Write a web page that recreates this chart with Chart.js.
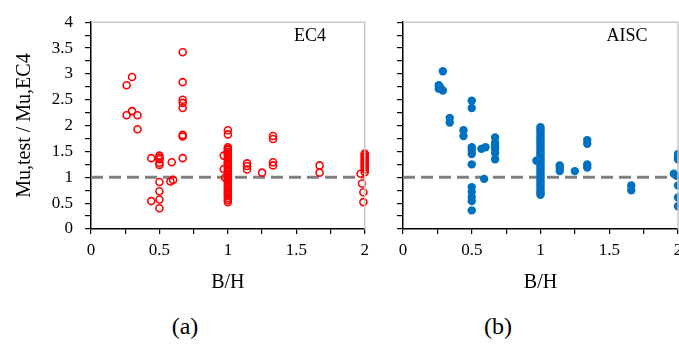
<!DOCTYPE html>
<html>
<head>
<meta charset="UTF-8">
<script src="https://cdn.jsdelivr.net/npm/chart.js"></script>
<style>
  html, body { margin: 0; padding: 0; background: #fff; overflow: hidden; }
  body { width: 679px; height: 347px; position: relative; font-family: "Liberation Serif", serif; }
  .box { position: absolute; top: 0; height: 300px; }
  #boxA { left: 0; width: 375px; }
  #boxB { left: 375px; width: 320px; }
  .tag { position: absolute; font-size: 18px; color: #000; transform: translate(-50%, -50%); white-space: nowrap; }
  .cap { position: absolute; font-size: 24px; color: #000; transform: translate(-50%, -50%); }
</style>
</head>
<body>
<div class="box" id="boxA"><canvas id="chartA"></canvas></div>
<div class="box" id="boxB"><canvas id="chartB"></canvas></div>
<div class="tag" style="left:310px; top:35px;">EC4</div>
<div class="tag" style="left:627px; top:35px;">AISC</div>
<div class="cap" style="left:185px; top:326px;">(a)</div>
<div class="cap" style="left:498px; top:326px;">(b)</div>

<script>
// B/H ratio and Mu,test / Mu,code values
const ec4X = [0.26, 0.26, 0.30, 0.30, 0.34, 0.34,
  0.44, 0.44, 0.5, 0.5, 0.5, 0.5, 0.5, 0.5, 0.5, 0.5, 0.5,
  0.58, 0.60, 0.59,
  0.67, 0.67, 0.67, 0.67, 0.67, 0.67, 0.67, 0.67,
  1, 1, 1, 1, 1, 1, 1, 1, 1, 1, 1, 1, 1, 1, 1, 1, 1, 1, 1, 1, 1, 1, 1, 1, 1, 1, 1, 1, 1, 1, 1, 1, 1, 1,
  0.97, 0.97, 0.98,
  1.14, 1.14, 1.14, 1.25, 1.33, 1.33, 1.33, 1.33, 1.67, 1.67,
  2, 2, 2, 2, 2, 2, 2, 2, 2, 2, 2,
  1.97, 2, 1.98, 1.99, 1.99];
const ec4Y = [2.78, 2.20, 2.94, 2.28, 2.20, 1.93,
  1.37, 0.54, 1.42, 1.38, 1.35, 1.28, 1.24, 0.91, 0.73, 0.57, 0.40,
  0.92, 0.95, 1.29,
  3.42, 2.84, 2.50, 2.44, 2.34, 1.82, 1.79, 1.37,
  1.91, 1.83, 1.58, 1.55, 1.53, 1.49, 1.46, 1.43, 1.39, 1.36, 1.33, 1.29, 1.27, 1.24, 1.20, 1.17, 1.13, 1.11, 1.07, 1.04, 1.01, 0.97, 0.94, 0.90, 0.86, 0.83, 0.79, 0.75, 0.71, 0.68, 0.65, 0.60, 0.56, 0.52,
  1.42, 1.16, 0.99,
  1.27, 1.22, 1.15, 1.09, 1.80, 1.74, 1.29, 1.23, 1.23, 1.09,
  1.46, 1.43, 1.40, 1.37, 1.34, 1.31, 1.28, 1.25, 1.22, 1.19, 1.15,
  1.07, 1.10, 0.88, 0.71, 0.52];

const aiscX = [0.29, 0.26, 0.26, 0.29, 0.27,
  0.34, 0.34, 0.44, 0.44,
  0.5, 0.5, 0.5, 0.5, 0.5, 0.5, 0.5, 0.5, 0.5, 0.5, 0.5,
  0.57, 0.60, 0.59,
  0.67, 0.67, 0.67, 0.67, 0.67, 0.67,
  1, 1, 1, 1, 1, 1, 1, 1, 1, 1, 1, 1, 1, 1, 1, 1, 1, 1, 1, 1, 1, 1, 1, 1, 1, 1, 1, 1, 1, 1, 1,
  0.97,
  1.14, 1.14, 1.14, 1.25, 1.34, 1.34, 1.34, 1.34, 1.66, 1.66,
  2, 2, 2, 1.97, 1.99, 2, 2, 2];
const aiscY = [3.05, 2.78, 2.71, 2.68, 2.74,
  2.15, 2.06, 1.91, 1.80,
  2.48, 2.34, 1.58, 1.52, 1.45, 1.25, 0.81, 0.72, 0.62, 0.54, 0.36,
  1.55, 1.58, 0.97,
  1.77, 1.67, 1.60, 1.55, 1.47, 1.35,
  1.97, 1.93, 1.88, 1.84, 1.79, 1.75, 1.70, 1.66, 1.61, 1.57, 1.52, 1.48, 1.44, 1.39, 1.35, 1.30, 1.26, 1.21, 1.17, 1.12, 1.08, 1.03, 0.99, 0.94, 0.90, 0.85, 0.81, 0.76, 0.72, 0.69, 0.66,
  1.32,
  1.23, 1.18, 1.12, 1.12, 1.72, 1.65, 1.25, 1.19, 0.84, 0.75,
  1.45, 1.40, 1.35, 1.07, 1.03, 0.84, 0.61, 0.44];

const refX = [0, 2];
const refY = [1, 1];

function pts(xs, ys) { return xs.map((x, i) => ({ x: x, y: ys[i] })); }

// gray frame along top and right of the plot area
const framePlugin = {
  id: 'frame',
  afterDraw(chart) {
    const a = chart.chartArea, ctx = chart.ctx;
    ctx.save();
    ctx.strokeStyle = '#c8c8c8';
    ctx.lineWidth = 1.5;
    ctx.beginPath();
    ctx.moveTo(a.left, a.top);
    ctx.lineTo(a.right, a.top);
    ctx.lineTo(a.right, a.bottom);
    ctx.stroke();
    ctx.restore();
  }
};

function makeChart(id, data, style, showY, yWidth, padRight) {
  const tickFont = { family: 'Liberation Serif', size: 17 };
  const titleFont = { family: 'Liberation Serif', size: 20 };
  return new Chart(document.getElementById(id), {
    type: 'scatter',
    data: {
      datasets: [
        Object.assign({ data: data, clip: false, order: 1 }, style),
        {
          type: 'line', data: pts(refX, refY), order: 2,
          borderColor: '#808080', borderWidth: 3, borderDash: [12, 6],
          pointRadius: 0, fill: false
        }
      ]
    },
    plugins: [framePlugin],
    options: {
      responsive: true,
      maintainAspectRatio: false,
      animation: false,
      layout: { padding: { top: 20, right: padRight, left: 0, bottom: 0 } },
      plugins: { legend: { display: false }, tooltip: { enabled: false } },
      scales: {
        x: {
          type: 'linear', min: 0, max: 2,
          ticks: {
            stepSize: 0.25, color: '#000', font: tickFont, padding: 6, maxRotation: 0,
            autoSkip: false,
            callback: v => (Math.abs(v * 2 - Math.round(v * 2)) < 1e-6 ? String(v) : '')
          },
          grid: { display: true, drawOnChartArea: false, tickLength: 5, color: '#000', lineWidth: 1.2 },
          border: { display: true, color: '#000', width: 1.5 },
          title: { display: true, text: 'B/H', color: '#000', font: titleFont, padding: { top: 0, bottom: 5 } },
          afterFit: s => { s.height = 71; }
        },
        y: {
          type: 'linear', min: 0, max: 4,
          ticks: {
            stepSize: 0.25, color: '#000', font: tickFont, padding: 12, autoSkip: false,
            callback: v => (showY && Math.abs(v * 2 - Math.round(v * 2)) < 1e-6 ? String(v) : '')
          },
          grid: { display: true, drawOnChartArea: false, tickLength: 6, color: '#000', lineWidth: 1.2 },
          border: { display: true, color: '#000', width: 1.5 },
          title: {
            display: showY, text: 'Mu,test / Mu,EC4', color: '#000', font: titleFont,
            padding: { top: 13, bottom: 0 }
          },
          afterFit: s => { s.width = yWidth; }
        }
      }
    }
  });
}

makeChart('chartA', pts(ec4X, ec4Y),
  { pointStyle: 'circle', pointRadius: 3.5, borderWidth: 1.6, borderColor: '#ff0000', backgroundColor: 'rgba(255,255,255,0)' },
  true, 91, 9);

makeChart('chartB', pts(aiscX, aiscY),
  { pointStyle: 'circle', pointRadius: 4.2, borderWidth: 0, borderColor: '#0070c0', backgroundColor: '#0070c0' },
  false, 28, 17);
</script>
</body>
</html>
